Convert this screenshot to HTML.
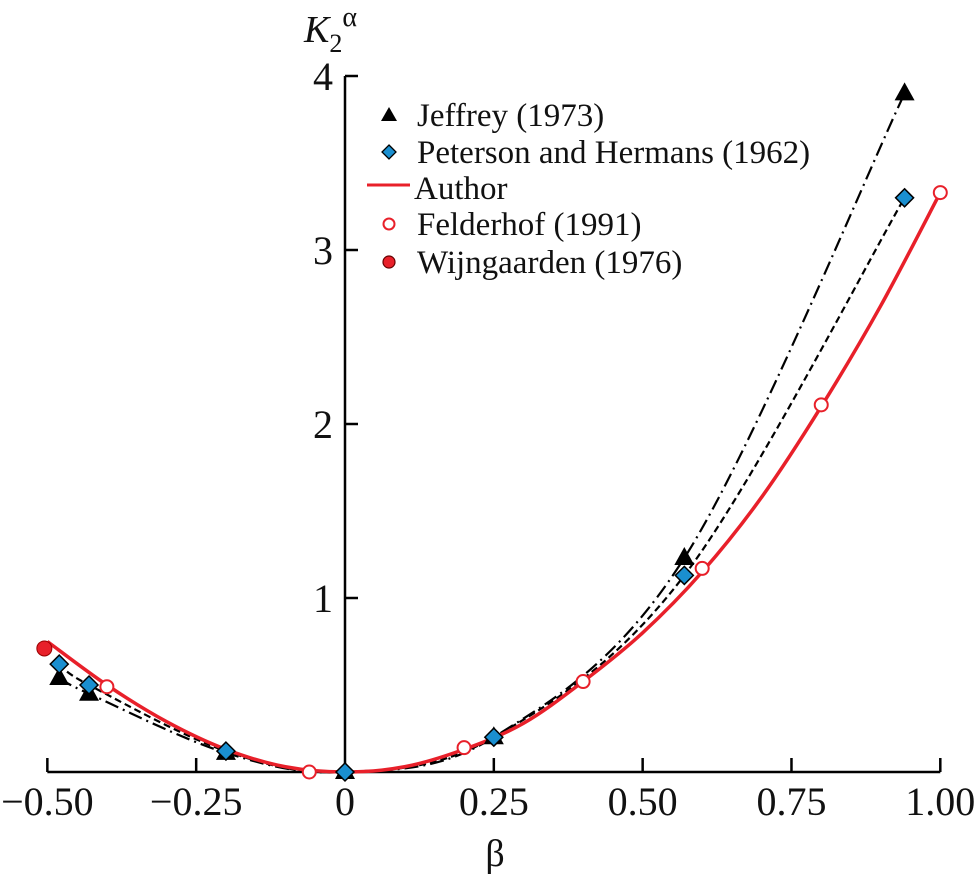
<!DOCTYPE html>
<html><head><meta charset="utf-8"><style>
body{margin:0;background:#fff}
svg{display:block}
svg text{font-family:"Liberation Serif","Times New Roman","Noto Serif CJK SC","DejaVu Serif",serif}
</style></head><body>
<svg id="chart" width="978" height="877" viewBox="0 0 978 877" xmlns="http://www.w3.org/2000/svg"></svg>
<script>
const xTicks=[-0.5,-0.25,0,0.25,0.5,0.75,1.0];
const xTickLabels=["\u22120.50","\u22120.25","0","0.25","0.50","0.75","1.00"];
const yTicks=[1,2,3,4];
const yTickLabels=["1","2","3","4"];
const jeffX=[-0.48,-0.43,-0.2,0,0.25,0.57,0.94];
const jeffY=[0.54,0.45,0.11,0,0.2,1.23,3.9];
const peteX=[-0.48,-0.43,-0.2,0,0.25,0.57,0.94];
const peteY=[0.62,0.5,0.12,0,0.2,1.13,3.3];
const feldX=[-0.4,-0.06,0.2,0.4,0.6,0.8,1.0];
const feldY=[0.49,0.0,0.14,0.52,1.17,2.11,3.33];
const wijnX=[-0.5];
const wijnY=[0.71];
const authX=[-0.5,-0.4,-0.3,-0.2,-0.1,0,0.1,0.2,0.3,0.4,0.5,0.6,0.7,0.8,0.9,1.0];
const authY=[0.75,0.5,0.29,0.13,0.03,0,0.03,0.13,0.28,0.52,0.8,1.15,1.58,2.1,2.68,3.33];

const sx=v=>345+v*595.3;
const sy=v=>772-v*174;
const svg=document.getElementById('chart');
const NS='http://www.w3.org/2000/svg';
function mk(t,a,p){const e=document.createElementNS(NS,t);for(const k in a)e.setAttribute(k,a[k]);(p||svg).appendChild(e);return e;}
function smooth(xs,ys){const P=xs.map((x,i)=>[sx(x),sy(ys[i])]);let d='M'+P[0][0]+','+P[0][1];
for(let i=0;i<P.length-1;i++){const p0=P[Math.max(0,i-1)],p1=P[i],p2=P[i+1],p3=P[Math.min(P.length-1,i+2)];
d+=' C'+(p1[0]+(p2[0]-p0[0])/6)+','+(p1[1]+(p2[1]-p0[1])/6)+' '+(p2[0]-(p3[0]-p1[0])/6)+','+(p2[1]-(p3[1]-p1[1])/6)+' '+p2[0]+','+p2[1];}return d;}

const xa=mk('line',{x1:sx(-0.5),y1:772,x2:sx(1),y2:772,stroke:'#000','stroke-width':2.5});

const ya=mk('line',{x1:345,y1:sy(4),x2:345,y2:772,stroke:'#000','stroke-width':2.5});

xTicks.forEach((v,i)=>{
 if(v!==0){const t=mk('line',{x1:sx(v),y1:772,x2:sx(v),y2:758,stroke:'#000','stroke-width':2.5});
 }
 const l=mk('text',{x:sx(v),y:815,'text-anchor':'middle','font-size':40,fill:'#111'});
 l.textContent=xTickLabels[i];
 
});
yTicks.forEach((v,i)=>{
 const t=mk('line',{x1:345,y1:sy(v),x2:358,y2:sy(v),stroke:'#000','stroke-width':2.5});
 
 const l=mk('text',{x:333,y:sy(v)+14,'text-anchor':'end','font-size':40,fill:'#111'});l.textContent=yTickLabels[i];
 
});
const xt=mk('text',{x:495,y:866,'text-anchor':'middle','font-size':38,fill:'#111'});xt.textContent='β';

const yt=mk('text',{x:304,y:42,'font-size':38,fill:'#111'});

yt.innerHTML='<tspan font-style="italic">K</tspan><tspan font-size="26" dy="10">2</tspan><tspan font-size="28" dy="-26">α</tspan>';

const jl=mk('path',{d:smooth(jeffX,jeffY),fill:'none',stroke:'#000','stroke-width':2.2,'stroke-dasharray':'14,5,2,5'});

const pl=mk('path',{d:smooth(peteX,peteY),fill:'none',stroke:'#000','stroke-width':2.2,'stroke-dasharray':'7,4'});

const al=mk('path',{d:smooth(authX,authY),fill:'none',stroke:'#e8202a','stroke-width':3.5});


jeffX.forEach((x,i)=>{const cx=sx(x),cy=sy(jeffY[i]);
 const m=mk('polygon',{points:`${cx},${cy-11} ${cx-10},${cy+7} ${cx+10},${cy+7}`,fill:'#000'});
 });
peteX.forEach((x,i)=>{const cx=sx(x),cy=sy(peteY[i]);
 const m=mk('polygon',{points:`${cx},${cy-9} ${cx+9},${cy} ${cx},${cy+9} ${cx-9},${cy}`,fill:'#1a8fd0',stroke:'#000','stroke-width':1.5});
 });
feldX.forEach((x,i)=>{
 const m=mk('circle',{cx:sx(x),cy:sy(feldY[i]),r:6.5,fill:'#fff',stroke:'#e8202a','stroke-width':2});
 });
wijnX.forEach((x,i)=>{
 const m=mk('circle',{cx:sx(x)-3,cy:sy(wijnY[i]),r:7.5,fill:'#e8202a',stroke:'#900','stroke-width':1});
 });

const lg=mk('g',{});
const rows=[['Jeffrey (1973)',115,'tri'],['Peterson and Hermans (1962)',152,'dia'],['Author',188,'line'],['Felderhof (1991)',224,'open'],['Wijngaarden (1976)',262,'fill']];
rows.forEach(r=>{const g=mk('g',{},lg);
 const cx=389,cy=r[1];
 if(r[2]==='tri')mk('polygon',{points:`${cx},${cy-8} ${cx-8},${cy+6} ${cx+8},${cy+6}`,fill:'#000'},g);
 if(r[2]==='dia')mk('polygon',{points:`${cx},${cy-7} ${cx+7},${cy} ${cx},${cy+7} ${cx-7},${cy}`,fill:'#1a8fd0',stroke:'#000','stroke-width':1.3},g);
 if(r[2]==='line')mk('line',{x1:367,y1:cy-3,x2:410,y2:cy-3,stroke:'#e8202a','stroke-width':3},g);
 if(r[2]==='open')mk('circle',{cx:cx,cy:cy,r:5.5,fill:'#fff',stroke:'#e8202a','stroke-width':2},g);
 if(r[2]==='fill')mk('circle',{cx:cx,cy:cy,r:6,fill:'#e8202a',stroke:'#600','stroke-width':1.2},g);
 const t=mk('text',{x:r[2]==='line'?414:417,y:cy+11,'font-size':33,fill:'#111'},g);t.textContent=r[0];});
</script>
</body></html>
